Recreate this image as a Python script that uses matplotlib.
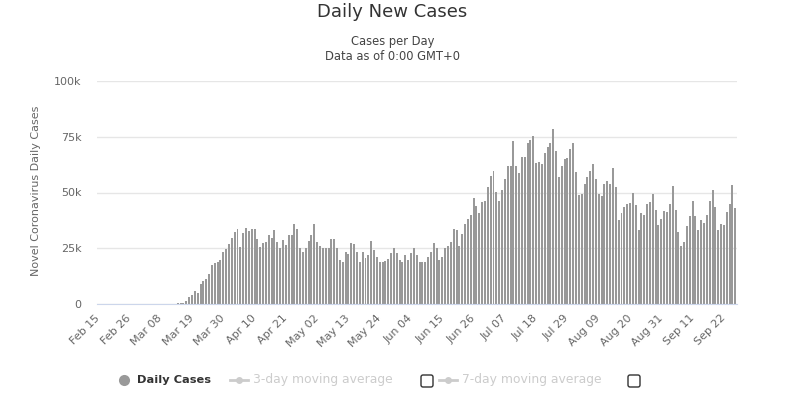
import numpy as np
import pandas as pd
import matplotlib
matplotlib.use('Agg')
import matplotlib.pyplot as plt
from matplotlib.patches import FancyBboxPatch

# daily new cases, one list per month (2020)
feb_cases = [0] * 15
mar_cases = [2, 3, 5, 8, 12, 15, 20, 30, 45, 60, 80, 100, 150, 250,
             450, 600, 1500, 3000, 4000, 5800, 5100, 8900, 10300, 11300, 13400,
             17400, 18500, 19000, 19600, 23100, 24800]
apr_cases = [27100, 29800, 32300, 33600, 25600, 31800, 33900, 32700, 33500, 33600,
             29200, 25600, 27400, 27800, 31100, 29600, 33000, 27800, 24900, 28700,
             26400, 30800, 31000, 35700, 33800, 25300, 23400, 25300, 28300, 30800]
may_cases = [35700, 27800, 25900, 25000, 25000, 25000, 29200, 29000, 25000, 19600,
             19000, 23300, 22300, 27400, 27000, 23300, 19000, 23400, 20800, 21800,
             28100, 24400, 21100, 18900, 18900, 19200, 20000, 22900, 25000, 22900, 19600]
jun_cases = [18900, 22000, 19900, 22900, 25000, 21800, 18900, 19050, 19050, 21000,
             23100, 27150, 25050, 19800, 21000, 25050, 25800, 27900, 33600, 33300,
             26100, 31350, 35850, 38100, 40050, 47550, 43800, 40800, 45600, 46050]
jul_cases = [52350, 57600, 59550, 50100, 46200, 51300, 56100, 62100, 61800, 73050,
             62100, 58800, 65700, 66000, 72000, 73650, 75150, 63300, 63600, 63000,
             67800, 70500, 72000, 78300, 68550, 57000, 61800, 65100, 65400, 69300, 72000]
aug_cases = [59100, 49050, 49500, 54000, 56850, 59550, 62850, 56100, 49350, 48600,
             53850, 55050, 54000, 61050, 52500, 37800, 40800, 43500, 45000, 45300,
             49800, 44250, 33300, 40800, 40050, 45000, 45750, 49500, 42000, 35250, 38100]
sep_cases = [41700, 41100, 45000, 53100, 42300, 32250, 25800, 27900, 35100, 39600,
             46200, 39300, 33300, 37800, 36300, 40050, 46350, 51300, 43500, 33300,
             35850, 35550, 41100, 45000, 53550, 43050]

cases = feb_cases + mar_cases + apr_cases + may_cases + jun_cases + jul_cases + aug_cases + sep_cases
dates = pd.date_range('2020-02-15', periods=len(cases), freq='D')
y_ticks = [0, 25000, 50000, 75000, 100000]
y_labels = ['0', '25k', '50k', '75k', '100k']

plt.rcParams['font.family'] = ['DejaVu Sans']
W, H = 785, 417
fig = plt.figure(figsize=(W / 100, H / 100), dpi=100)
ax = fig.add_axes([96.7 / W, 113 / H, 640 / W, 223 / H])

x = np.arange(len(cases))
ax.bar(x, cases, width=0.7, color='#999999', linewidth=0, zorder=3)
ax.set_xlim(-0.5, len(cases) - 0.5)
ax.set_ylim(0, 100000)

ax.set_yticks(y_ticks, y_labels)
ax.grid(axis='y', color='#e6e6e6', linewidth=1, zorder=0)
ax.set_axisbelow(True)
for s in ['top', 'right', 'left']:
    ax.spines[s].set_visible(False)
ax.spines['bottom'].set_color('#ccd6eb')
ax.spines['bottom'].set_zorder(4)
ax.tick_params(axis='y', length=0, pad=11, labelsize=8, labelcolor='#666666')

tick_pos = x[::11]
ax.set_xticks(tick_pos, [d.strftime('%b %d') for d in dates[::11]],
              rotation=45, ha='right', va='center', rotation_mode='anchor')
ax.tick_params(axis='x', length=0, pad=9, labelsize=8, labelcolor='#666666')

fig.text(36 / W, 1 - 191 / H, 'Novel Coronavirus Daily Cases', rotation=90,
         ha='center', va='center', fontsize=8, color='#666666')
fig.text(0.5, 1 - 12 / H, 'Daily New Cases', ha='center', va='center',
         fontsize=13, color='#333333')
fig.text(0.5, 1 - 42 / H, 'Cases per Day', ha='center', va='center',
         fontsize=8.3, color='#444444')
fig.text(0.5, 1 - 57 / H, 'Data as of 0:00 GMT+0', ha='center', va='center',
         fontsize=8.3, color='#444444')

# legend drawn in pixel space
lg = fig.add_axes([0, 0, 1, 1])
lg.set_xlim(0, W)
lg.set_ylim(H, 0)
lg.axis('off')
ly = 380
lg.plot([123.5], [ly], 'o', ms=8, color='#999999', mec='none')
lg.text(137, ly, 'Daily Cases', fontsize=8.2, fontweight='bold', color='#333333',
        ha='left', va='center')
for x0, label, box_x in [(230, '3-day moving average', 421), (439, '7-day moving average', 628)]:
    lg.plot([x0, x0 + 18], [ly, ly], color='#cccccc', lw=2)
    lg.plot([x0 + 9], [ly], 'o', ms=5, color='#cccccc', mec='none')
    lg.text(x0 + 23, ly, label, fontsize=8.9, color='#cccccc', ha='left', va='center')
    lg.add_patch(FancyBboxPatch((box_x, ly - 5), 12, 12,
                                boxstyle='round,pad=0,rounding_size=2',
                                fc='white', ec='#333333', lw=1))

fig.savefig('out.png', dpi=100)
